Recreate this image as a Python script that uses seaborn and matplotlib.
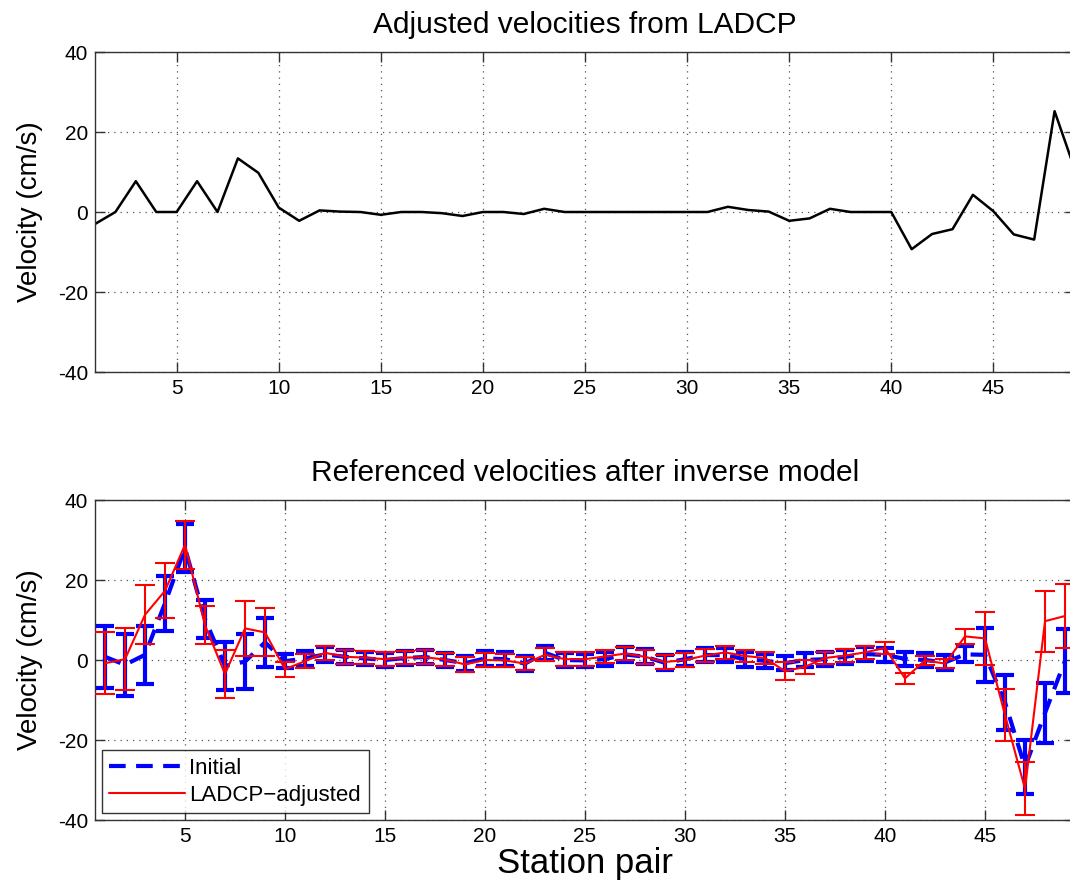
import numpy as np
import pandas as pd
import matplotlib
matplotlib.use("Agg")
import matplotlib.pyplot as plt
from matplotlib.lines import Line2D
import seaborn as sns

# ---- data ----
stations = list(range(1, 50))

ladcp_velocity = [-3.0, 0.0, 7.7, 0.0, 0.0, 7.7, 0.0, 13.4, 9.8, 1.1,
                  -2.2, 0.4, 0.1, 0.0, -0.7, 0.0, 0.0, -0.3, -1.0, 0.0,
                  0.0, -0.5, 0.8, 0.0, 0.0, 0.0, 0.0, 0.0, 0.0, 0.0,
                  0.0, 1.3, 0.5, 0.1, -2.2, -1.6, 0.8, 0.0, 0.0, 0.0,
                  -9.3, -5.5, -4.3, 4.3, 0.2, -5.6, -6.9, 25.2, 10.5]

initial_velocity = [0.8, -1.2, 1.3, 14.2, 28.0, 10.2, -1.5, -0.4, 4.4, -0.3,
                    0.4, 1.4, 0.8, 0.4, 0.0, 0.5, 0.75, 0.0, -0.8, 0.4,
                    0.2, -0.9, 1.8, 0.0, -0.1, 0.2, 1.4, 0.8, -0.7, 0.2,
                    1.25, 1.2, 0.2, -0.2, -0.8, 0.0, 0.2, 0.8, 1.5, 1.25,
                    0.3, 0.0, -0.6, 1.4, 1.3, -10.6, -26.75, -13.25, -0.2]
initial_error = [7.7, 7.7, 7.3, 6.9, 6.0, 4.8, 6.0, 6.9, 6.1, 1.8,
                 1.8, 1.8, 1.8, 1.7, 1.8, 1.7, 1.8, 1.7, 1.9, 1.8,
                 1.8, 1.8, 1.8, 1.7, 1.7, 1.8, 1.8, 1.9, 1.9, 1.8,
                 1.7, 1.8, 1.9, 1.8, 1.8, 1.8, 1.8, 1.8, 1.8, 1.7,
                 1.8, 1.7, 1.8, 2.0, 6.7, 6.9, 6.75, 7.4, 8.0]

adjusted_velocity = [-0.8, 0.2, 11.3, 17.3, 28.8, 8.7, -3.5, 7.9, 6.9, -2.3,
                     -0.3, 1.8, 0.8, 0.6, 0.2, 0.6, 0.7, 0.1, -1.1, 0.0,
                     -0.1, -0.9, 1.3, 0.2, 0.2, 0.9, 1.6, 0.8, -0.5, 0.0,
                     1.1, 1.9, 1.0, 0.5, -2.8, -1.7, 0.5, 1.1, 1.9, 3.0,
                     -4.6, -0.1, -0.9, 5.9, 5.4, -13.75, -32.2, 9.7, 11.0]
adjusted_error = [7.7, 7.7, 7.4, 6.9, 6.0, 4.7, 5.9, 6.8, 6.0, 1.9,
                  1.7, 1.8, 1.7, 1.7, 1.7, 1.6, 1.7, 1.7, 1.8, 1.7,
                  1.7, 1.7, 1.6, 1.7, 1.7, 1.7, 1.6, 1.7, 1.7, 1.7,
                  1.7, 1.6, 1.6, 1.6, 2.2, 1.7, 1.6, 1.7, 1.6, 1.4,
                  1.3, 1.2, 1.2, 1.9, 6.7, 6.6, 6.6, 7.6, 7.9]

xticks = [5, 10, 15, 20, 25, 30, 35, 40, 45]
yticks = [-40, -20, 0, 20, 40]

top_title = "Adjusted velocities from LADCP"
bottom_title = "Referenced velocities after inverse model"
ylabel = "Velocity (cm/s)"
xlabel = "Station pair"
legend_labels = ["Initial", "LADCP\u2212adjusted"]

# ---- style ----
sns.set_theme(style="ticks")
plt.rcParams["font.family"] = ["Liberation Sans", "DejaVu Sans"]
plt.rcParams["axes.edgecolor"] = "#333333"
plt.rcParams["text.color"] = "black"
plt.rcParams["axes.labelcolor"] = "black"
plt.rcParams["xtick.labelcolor"] = "black"
plt.rcParams["ytick.labelcolor"] = "black"
plt.rcParams["xtick.direction"] = "in"
plt.rcParams["ytick.direction"] = "in"
plt.rcParams["axes.unicode_minus"] = False

W, H = 1070, 886
fig = plt.figure(figsize=(W / 100, H / 100), dpi=100)


def frac(left, right, top, bottom):
    return [left / W, 1 - bottom / H, (right - left) / W, (bottom - top) / H]


ax1 = fig.add_axes(frac(95, 1075, 52, 372))
ax2 = fig.add_axes(frac(95, 1075, 500, 820))

df_top = pd.DataFrame({"station": stations, "velocity": ladcp_velocity})
sns.lineplot(data=df_top, x="station", y="velocity", ax=ax1,
             color="black", linewidth=1.8, estimator=None, errorbar=None)

blue_dash = (0, (4.0, 2.5))
ax2.errorbar(stations, initial_velocity, yerr=initial_error, color="#0000ff",
             linestyle=blue_dash, linewidth=3.0, elinewidth=3.0,
             capsize=6.5, capthick=3.0, zorder=2)
ax2.errorbar(stations, adjusted_velocity, yerr=adjusted_error, color="#ff0000",
             linestyle="-", linewidth=1.5, elinewidth=1.5,
             capsize=7.0, capthick=1.5, zorder=3)

for ax, title, xlim in [(ax1, top_title, (1, 49)), (ax2, bottom_title, (0.5, 49.5))]:
    ax.set_xlim(*xlim)
    ax.set_ylim(-40, 40)
    ax.set_xticks(xticks)
    ax.set_yticks(yticks)
    ax.grid(True, linestyle=(0, (1, 4)), color="#555555", linewidth=0.9)
    ax.tick_params(axis="both", which="both", labelsize=15, length=7,
                   width=1.0, top=True, right=True, color="#333333", pad=5)
    ax.set_title(title, fontsize=21.5, pad=14)
    ax.set_ylabel(ylabel, fontsize=20, labelpad=11)
    ax.set_xlabel("")
    for s in ax.spines.values():
        s.set_linewidth(1.0)

ax2.set_xlabel(xlabel, fontsize=25, labelpad=1)

handles = [Line2D([], [], color="#0000ff", linestyle=blue_dash, linewidth=3.0),
           Line2D([], [], color="#ff0000", linestyle="-", linewidth=1.5)]
leg = ax2.legend(handles, legend_labels, loc="lower left", fontsize=16,
                 frameon=True, fancybox=False, edgecolor="black",
                 handlelength=3.4, borderaxespad=0.3, labelspacing=0.25,
                 handletextpad=0.2, borderpad=0.35)
leg.get_frame().set_linewidth(1.0)

fig.savefig("out.png", dpi=100)
